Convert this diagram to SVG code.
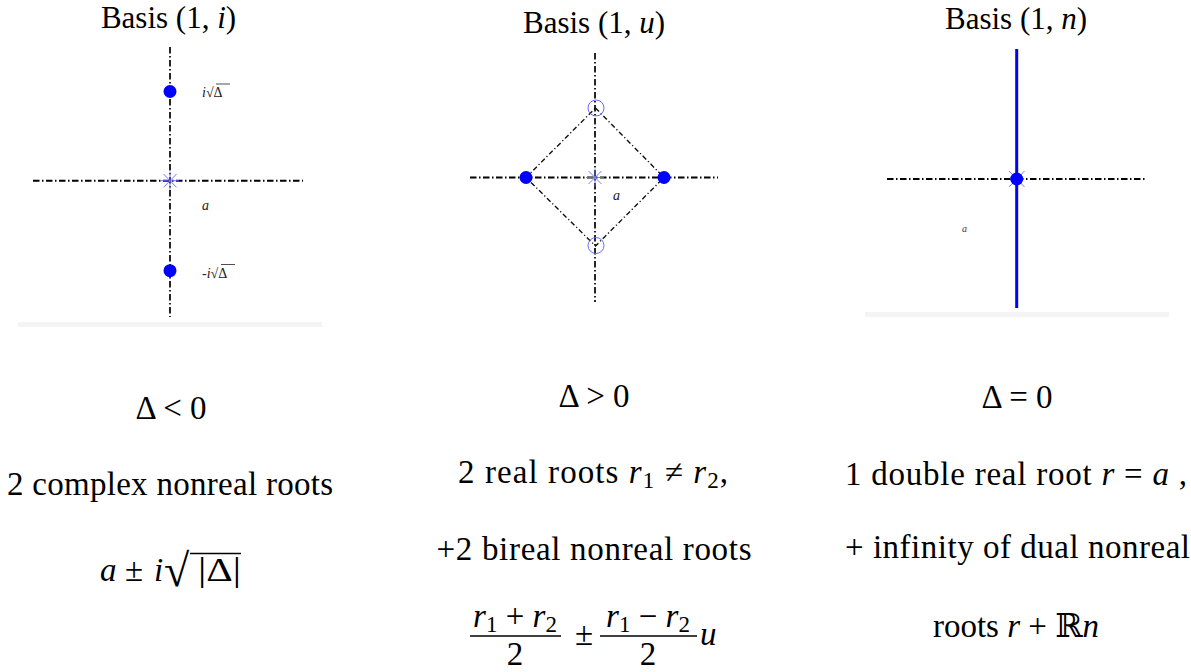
<svg xmlns="http://www.w3.org/2000/svg" width="1191" height="672" viewBox="0 0 1191 672" font-family="'Liberation Serif', 'DejaVu Serif', serif">
<style>
text{fill:#000}
.t{font-size:31px;text-anchor:middle}
.b{font-size:33px}
.m{text-anchor:middle}
.i{font-style:italic}
.sub{font-size:23px}
.lbl{font-size:14px;fill:#222}
.axis{stroke:#000;stroke-width:2;stroke-dasharray:6.5 2.5 1.5 2.5;fill:none}
.vaxis{stroke:#000;stroke-width:1.7;stroke-dasharray:6.5 2.5 1.5 2.5;fill:none}
.dia{stroke:#111;stroke-width:1.4;stroke-dasharray:5 2.5 1.2 2.5;fill:none}
.dot{fill:#0000ff}
.ring{fill:none;stroke:#6a6aff;stroke-width:1}
.star{stroke:#6a6aff;stroke-width:0.9}
.bar{stroke:#000;stroke-width:1.3}
.band{fill:#f4f4f4}
</style>
<rect width="1191" height="672" fill="#fff"/>

<g id="panel1">
<rect class="band" x="18" y="322" width="304" height="5"/>
<text class="t" x="168.5" y="28">Basis (1, <tspan class="i">i</tspan>)</text>
<line class="vaxis" x1="170" y1="47" x2="170" y2="317"/>
<line class="axis" x1="33" y1="180.7" x2="303" y2="180.7"/>
<g class="star">
<line x1="161" y1="180.7" x2="179" y2="180.7"/>
<line x1="170" y1="171.7" x2="170" y2="189.7"/>
<line x1="163.5" y1="174" x2="176.5" y2="187.4"/>
<line x1="163.5" y1="187.4" x2="176.5" y2="174"/>
</g>
<circle class="dot" cx="170" cy="91.5" r="6.5"/>
<circle class="dot" cx="170" cy="270.7" r="6.5"/>
<text class="lbl" x="202" y="97"><tspan class="i">i</tspan>√Δ</text>
<line x1="216" y1="84" x2="230" y2="84" stroke="#222" stroke-width="0.8"/>
<text class="lbl i" x="202" y="210">a</text>
<text class="lbl" x="202" y="277.5">-<tspan class="i">i</tspan>√Δ</text>
<line x1="221" y1="264.5" x2="235" y2="264.5" stroke="#222" stroke-width="0.8"/>
</g>

<g id="panel2">
<text class="t" x="594" y="33">Basis (1, <tspan class="i">u</tspan>)</text>
<line class="vaxis" x1="595" y1="53" x2="595" y2="302"/>
<line class="axis" x1="470" y1="177.5" x2="718" y2="177.5"/>
<polygon class="dia" points="595.5,108 664,177.5 595.5,246 526,177.5"/>
<g class="star">
<line x1="586" y1="177.5" x2="604" y2="177.5"/>
<line x1="595" y1="168.5" x2="595" y2="186.5"/>
<line x1="588.5" y1="171" x2="601.5" y2="184"/>
<line x1="588.5" y1="184" x2="601.5" y2="171"/>
</g>
<circle class="dot" cx="526" cy="177.5" r="6.5"/>
<circle class="dot" cx="664" cy="177.5" r="6.5"/>
<circle class="ring" cx="596" cy="108" r="8"/>
<circle class="ring" cx="596" cy="245.5" r="8"/>
<text class="lbl i" x="613" y="200">a</text>
</g>

<g id="panel3">
<rect class="band" x="865" y="312" width="304" height="5"/>
<text class="t" x="1016" y="29">Basis (1, <tspan class="i">n</tspan>)</text>
<line class="axis" x1="887" y1="179" x2="1145" y2="179"/>
<line x1="1016.7" y1="49" x2="1016.7" y2="308" stroke="#0000ff" stroke-width="3"/>
<g class="star">
<line x1="1009" y1="171" x2="1024.5" y2="187"/>
<line x1="1009" y1="187" x2="1024.5" y2="171"/>
</g>
<circle class="dot" cx="1016.7" cy="179" r="6.5"/>
<text class="i" x="962" y="232" style="font-size:10px;fill:#333">a</text>
</g>

<g id="caption1">
<text class="b m" x="171" y="419">Δ &lt; 0</text>
<text class="b m" x="170" y="495" textLength="326" lengthAdjust="spacing">2 complex nonreal roots</text>
<text class="b i" x="100" y="581">a</text>
<text class="b m" x="134" y="581">±</text>
<text class="b i" x="154" y="581">i</text>
<text class="b" x="164" y="586" style="font-size:46px">√</text>
<text class="b" x="198" y="581" textLength="43" lengthAdjust="spacingAndGlyphs">|Δ|</text>
<line class="bar" x1="190" y1="553.5" x2="241" y2="553.5"/>
</g>

<g id="caption2">
<text class="b m" x="594" y="407">Δ &gt; 0</text>
<text class="b m" x="593" y="483" textLength="270" lengthAdjust="spacing">2 real roots <tspan class="i">r</tspan><tspan class="sub" dy="5">1</tspan><tspan dy="-5"> ≠ </tspan><tspan class="i">r</tspan><tspan class="sub" dy="5">2</tspan><tspan dy="-5">,</tspan></text>
<text class="b m" x="594" y="560" textLength="315" lengthAdjust="spacing">+2 bireal nonreal roots</text>
<text class="b m" x="515" y="627"><tspan class="i">r</tspan><tspan class="sub" dy="5">1</tspan><tspan dy="-5"> + </tspan><tspan class="i">r</tspan><tspan class="sub" dy="5">2</tspan></text>
<line class="bar" x1="470" y1="636" x2="561" y2="636"/>
<text class="b m" x="515" y="665">2</text>
<text class="b m" x="584" y="645">±</text>
<text class="b m" x="648" y="627"><tspan class="i">r</tspan><tspan class="sub" dy="5">1</tspan><tspan dy="-5"> − </tspan><tspan class="i">r</tspan><tspan class="sub" dy="5">2</tspan></text>
<line class="bar" x1="600" y1="636" x2="697" y2="636"/>
<text class="b m" x="648" y="665">2</text>
<text class="b i" x="700" y="645">u</text>
</g>

<g id="caption3">
<text class="b m" x="1017" y="408">Δ = 0</text>
<text class="b" x="845" y="485" textLength="342" lengthAdjust="spacing">1 double real root <tspan class="i">r</tspan> = <tspan class="i">a</tspan> ,</text>
<text class="b" x="845" y="558" textLength="345" lengthAdjust="spacing">+ infinity of dual nonreal</text>
<text class="b m" x="1016" y="637">roots <tspan class="i">r</tspan> + ℝ<tspan class="i">n</tspan></text>
</g>
</svg>
